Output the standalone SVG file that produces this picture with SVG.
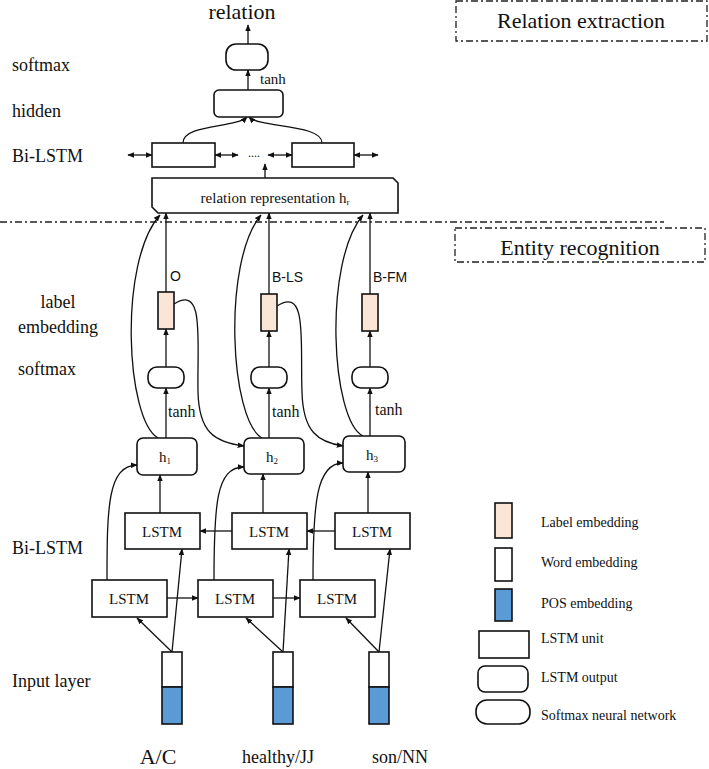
<svg xmlns="http://www.w3.org/2000/svg" width="709" height="769" viewBox="0 0 709 769">
<defs>
<marker id="ah" viewBox="0 0 10 10" refX="9" refY="5" markerWidth="7" markerHeight="7" orient="auto-start-reverse" markerUnits="userSpaceOnUse"><path d="M0,1 L10,5 L0,9 z" fill="#111"/></marker>
<style>
.t{font-family:"Liberation Serif","Times New Roman",serif;fill:#111}
.s{font-family:"Liberation Sans",Arial,sans-serif;fill:#111}
.box{fill:#fff;stroke:#111;stroke-width:1.6}
.lab{fill:#fbe5d6;stroke:#111;stroke-width:1.6}
.pos{fill:#5b9bd5;stroke:#111;stroke-width:1.6}
.c{fill:none;stroke:#111;stroke-width:1.3}
.a{fill:none;stroke:#111;stroke-width:1.3;marker-end:url(#ah)}
.d{fill:none;stroke:#111;stroke-width:1.3;marker-start:url(#ah);marker-end:url(#ah)}
.dd{fill:none;stroke:#222;stroke-width:1.3;stroke-dasharray:7 3 2 3}
</style>
</defs>
<rect width="709" height="769" fill="#fff"/>

<g id="section-labels">
<rect class="dd" x="456" y="1" width="251" height="40"/>
<text class="t" x="581" y="28" font-size="22" text-anchor="middle">Relation extraction</text>
<line class="dd" x1="0" y1="222" x2="664" y2="222"/>
<rect class="dd" x="455" y="228" width="250" height="34"/>
<text class="t" x="580" y="255" font-size="22" text-anchor="middle">Entity recognition</text>
</g>

<g id="layer-labels">
<text class="t" x="12" y="71" font-size="18">softmax</text>
<text class="t" x="12" y="117" font-size="18">hidden</text>
<text class="t" x="12" y="162" font-size="18">Bi-LSTM</text>
<text class="t" x="58" y="308" font-size="18" text-anchor="middle">label</text>
<text class="t" x="58" y="333" font-size="18" text-anchor="middle">embedding</text>
<text class="t" x="18" y="375" font-size="18">softmax</text>
<text class="t" x="12" y="554" font-size="18">Bi-LSTM</text>
<text class="t" x="12" y="687" font-size="18">Input layer</text>
</g>

<g id="connectors">
<line class="a" x1="248" y1="44" x2="248" y2="25"/>
<line class="a" x1="248" y1="90" x2="248" y2="70"/>
<path class="a" d="M183,143 C183,124 236,128 247,117"/>
<path class="a" d="M322,143 C322,124 260,128 249,117"/>
<line class="d" x1="128" y1="155" x2="152" y2="155"/>
<line class="d" x1="215" y1="155" x2="238" y2="155"/>
<line class="d" x1="268" y1="155" x2="292" y2="155"/>
<line class="d" x1="354" y1="155" x2="378" y2="155"/>
<line class="a" x1="265" y1="178" x2="265" y2="164"/>
<line class="a" x1="166" y1="438" x2="166" y2="388"/>
<line class="a" x1="166" y1="367" x2="166" y2="329"/>
<line class="a" x1="166" y1="292" x2="166" y2="213"/>
<line class="a" x1="269" y1="438" x2="269" y2="388"/>
<line class="a" x1="269" y1="367" x2="269" y2="331"/>
<line class="a" x1="269" y1="294" x2="269" y2="213"/>
<line class="a" x1="370" y1="436" x2="370" y2="388"/>
<line class="a" x1="370" y1="367" x2="370" y2="331"/>
<line class="a" x1="370" y1="294" x2="370" y2="213"/>
<path class="a" d="M158,438 C126,420 118,262 160,215"/>
<path class="a" d="M262,438 C230,420 222,262 261,215"/>
<path class="a" d="M363,436 C331,420 323,262 363,215"/>
<path class="a" d="M174,304 C205,284 197,340 198,392 C199,432 214,442 244,446"/>
<path class="a" d="M277,306 C308,286 300,342 302,392 C303,432 318,442 343,446"/>
<line class="a" x1="160" y1="513" x2="160" y2="475"/>
<line class="a" x1="263" y1="513" x2="263" y2="474"/>
<line class="a" x1="368" y1="513" x2="368" y2="472"/>
<path class="a" d="M107,580 C107,505 108,466 137,465"/>
<path class="a" d="M214,580 C214,505 216,467 244,467"/>
<path class="a" d="M313,580 C313,505 316,463 343,463"/>
<line class="a" x1="232" y1="531" x2="200" y2="531"/>
<line class="a" x1="335" y1="531" x2="307" y2="531"/>
<line class="a" x1="167" y1="598" x2="198" y2="598"/>
<line class="a" x1="273" y1="598" x2="300" y2="598"/>
<line class="a" x1="172" y1="652" x2="137" y2="618"/>
<line class="a" x1="172" y1="652" x2="182" y2="549"/>
<line class="a" x1="283" y1="652" x2="246" y2="618"/>
<line class="a" x1="283" y1="652" x2="289" y2="549"/>
<line class="a" x1="379" y1="652" x2="346" y2="618"/>
<line class="a" x1="379" y1="652" x2="390" y2="549"/>
</g>

<g id="relation-label"><text class="t" x="242" y="19" font-size="22" text-anchor="middle">relation</text></g>
<g id="rel-softmax"><rect class="box" x="226" y="44" width="42" height="26" rx="10"/>
<text class="t" x="260" y="84" font-size="15">tanh</text></g>
<g id="rel-hidden"><rect class="box" x="214" y="90" width="69" height="27" rx="5"/></g>
<g id="rel-bilstm-1"><rect class="box" x="152" y="143" width="63" height="24"/></g>
<g id="rel-bilstm-dots"><text class="t" x="254" y="157" font-size="12" text-anchor="middle">....</text></g>
<g id="rel-bilstm-2"><rect class="box" x="292" y="143" width="62" height="24"/></g>
<g id="rel-rep"><path class="box" d="M152,178 L393,178 L398,183 L398,213 L158,213 L152,207 Z"/>
<text class="t" x="275" y="203" font-size="15" text-anchor="middle">relation representation h<tspan font-size="9" dy="2">r</tspan></text></g>

<g id="col1">
<rect class="lab" x="158" y="292" width="16" height="37"/>
<text class="s" x="170" y="281" font-size="14">O</text>
<rect class="box" x="148" y="367" width="36" height="21" rx="9"/>
<text class="t" x="168" y="417" font-size="16">tanh</text>
<rect class="box" x="137" y="438" width="60" height="37" rx="6"/>
<text class="t" x="165" y="462" font-size="15" text-anchor="middle">h<tspan font-size="9" dy="2">1</tspan></text>
</g>
<g id="col2">
<rect class="lab" x="261" y="294" width="16" height="37"/>
<text class="s" x="272" y="282" font-size="14">B-LS</text>
<rect class="box" x="251" y="367" width="36" height="21" rx="9"/>
<text class="t" x="272" y="417" font-size="16">tanh</text>
<rect class="box" x="244" y="438" width="60" height="36" rx="6"/>
<text class="t" x="272" y="462" font-size="15" text-anchor="middle">h<tspan font-size="9" dy="2">2</tspan></text>
</g>
<g id="col3">
<rect class="lab" x="362" y="294" width="16" height="37"/>
<text class="s" x="373" y="282" font-size="14">B-FM</text>
<rect class="box" x="352" y="367" width="36" height="21" rx="9"/>
<text class="t" x="375" y="415" font-size="16">tanh</text>
<rect class="box" x="343" y="436" width="62" height="36" rx="6"/>
<text class="t" x="372" y="460" font-size="15" text-anchor="middle">h<tspan font-size="9" dy="2">3</tspan></text>
</g>

<g id="lstm-upper">
<rect class="box" x="125" y="513" width="75" height="36"/><text class="t" x="162" y="537" font-size="15" text-anchor="middle">LSTM</text>
<rect class="box" x="232" y="513" width="75" height="36"/><text class="t" x="269" y="537" font-size="15" text-anchor="middle">LSTM</text>
<rect class="box" x="335" y="513" width="75" height="36"/><text class="t" x="372" y="537" font-size="15" text-anchor="middle">LSTM</text>
</g>
<g id="lstm-lower">
<rect class="box" x="92" y="580" width="75" height="37"/><text class="t" x="129" y="604" font-size="15" text-anchor="middle">LSTM</text>
<rect class="box" x="198" y="580" width="75" height="37"/><text class="t" x="235" y="604" font-size="15" text-anchor="middle">LSTM</text>
<rect class="box" x="300" y="580" width="75" height="37"/><text class="t" x="337" y="604" font-size="15" text-anchor="middle">LSTM</text>
</g>

<g id="input-1"><rect class="box" x="162" y="652" width="20" height="35"/><rect class="pos" x="162" y="687" width="20" height="37"/>
<text class="t" x="158" y="764" font-size="22" text-anchor="middle">A/C</text></g>
<g id="input-2"><rect class="box" x="273" y="652" width="20" height="35"/><rect class="pos" x="273" y="687" width="20" height="37"/>
<text class="t" x="278" y="763" font-size="18" text-anchor="middle">healthy/JJ</text></g>
<g id="input-3"><rect class="box" x="369" y="652" width="20" height="35"/><rect class="pos" x="369" y="687" width="20" height="37"/>
<text class="t" x="400" y="763" font-size="18" text-anchor="middle">son/NN</text></g>

<g id="legend">
<rect class="lab" x="495" y="503" width="17" height="35"/><text class="t" x="541" y="527" font-size="14">Label embedding</text>
<rect class="box" x="495" y="548" width="17" height="33"/><text class="t" x="541" y="567" font-size="14">Word embedding</text>
<rect class="pos" x="495" y="589" width="17" height="32"/><text class="t" x="541" y="608" font-size="14">POS embedding</text>
<rect class="box" x="479" y="631" width="50" height="27"/><text class="t" x="541" y="643" font-size="14">LSTM unit</text>
<rect class="box" x="478" y="666" width="50" height="26" rx="7"/><text class="t" x="541" y="682" font-size="14">LSTM output</text>
<rect class="box" x="476" y="700" width="54" height="24" rx="11"/><text class="t" x="541" y="720" font-size="14">Softmax neural network</text>
</g>
</svg>
